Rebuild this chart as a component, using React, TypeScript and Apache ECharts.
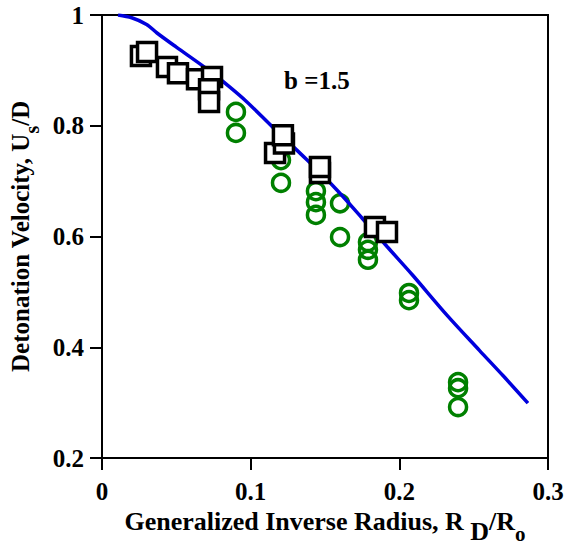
import React, { useEffect, useRef } from "react";
import * as echarts from "echarts";

// Model curve (b = 1.5): [R_D/R_o, Us/D]
const curveX = [0.0108, 0.02, 0.03, 0.037, 0.05, 0.0706, 0.085, 0.0975, 0.115, 0.138, 0.158, 0.175, 0.192, 0.209, 0.232, 0.254, 0.27, 0.2865];
const curveY = [1.0, 0.995, 0.983, 0.9675, 0.942, 0.9025, 0.872, 0.843, 0.797, 0.738, 0.684, 0.633, 0.581, 0.53, 0.458, 0.394, 0.348, 0.299];

// Experimental data (squares)
const squareX = [0.0262, 0.0303, 0.0437, 0.0511, 0.0639, 0.074, 0.072, 0.072, 0.1164, 0.1224, 0.1217, 0.1466, 0.1466, 0.1836, 0.1917];
const squareY = [0.926, 0.933, 0.906, 0.895, 0.884, 0.888, 0.866, 0.843, 0.751, 0.768, 0.783, 0.7147, 0.7255, 0.617, 0.608];

// Experimental data (circles)
const circleX = [0.0901, 0.0901, 0.1204, 0.1204, 0.1439, 0.1439, 0.1439, 0.1601, 0.1601, 0.1789, 0.1789, 0.1789, 0.2065, 0.2065, 0.2395, 0.2395, 0.2395];
const circleY = [0.825, 0.787, 0.738, 0.697, 0.682, 0.662, 0.639, 0.66, 0.599, 0.59, 0.576, 0.558, 0.498, 0.485, 0.337, 0.326, 0.292];

const xTicks = { min: 0, max: 0.3, interval: 0.1 };
const yTicks = { min: 0.2, max: 1, interval: 0.2 };
const annotation = "b =1.5";

const FONT = "'Liberation Serif', 'Times New Roman', serif";

export default function App() {
  const ref = useRef<HTMLDivElement>(null);
  useEffect(() => {
    if (!ref.current) return;
    const chart = echarts.init(ref.current, undefined, { renderer: "svg" });
    const zip = (xs: number[], ys: number[]) => xs.map((x, i) => [x, ys[i]]);
    const labelStyle = {
      color: "#000",
      fontFamily: FONT,
      fontWeight: "bold" as const,
      fontSize: 25,
    };
    const titleStyle = { ...labelStyle, fontSize: 26 };
    const axisCommon = {
      splitLine: { show: false },
      axisLine: { show: true, lineStyle: { color: "#000", width: 2 } },
      axisTick: { show: true, inside: false, length: 12, lineStyle: { color: "#000", width: 2 } },
    };
    chart.setOption({
      animation: false,
      backgroundColor: "#fff",
      grid: {
        left: 102,
        right: 17,
        top: 15,
        bottom: 90,
        containLabel: false,
        outerBoundsMode: "none",
        show: true,
        borderColor: "#000",
        borderWidth: 2,
        backgroundColor: "transparent",
      },
      xAxis: {
        type: "value",
        min: xTicks.min,
        max: xTicks.max,
        interval: xTicks.interval,
        ...axisCommon,
        axisLabel: {
          ...labelStyle,
          margin: 21,
          formatter: (v: number) => (v === 0 ? "0" : v.toFixed(1)),
        },
        name: "{m|Generalized Inverse Radius, R }{s|D}{m|/R}{o|o}",
        nameLocation: "middle",
        nameGap: 48,
        nameTextStyle: {
          ...titleStyle,
          rich: {
            m: { ...titleStyle, verticalAlign: "top", lineHeight: 28 },
            s: { ...titleStyle, verticalAlign: "bottom", lineHeight: 35 },
            o: { ...titleStyle, fontSize: 21, verticalAlign: "bottom", lineHeight: 36 },
          },
        },
      },
      yAxis: {
        type: "value",
        min: yTicks.min,
        max: yTicks.max,
        interval: yTicks.interval,
        ...axisCommon,
        axisLabel: {
          ...labelStyle,
          margin: 18,
          formatter: (v: number) => (Math.abs(v - 1) < 1e-9 ? "1" : v.toFixed(1)),
        },
        name: "{m|Detonation Velocity, U}{s|s}{m|/D}",
        nameLocation: "middle",
        nameGap: 48,
        nameRotate: 90,
        nameTextStyle: {
          ...labelStyle,
          rich: {
            m: { ...labelStyle, verticalAlign: "top", lineHeight: 28 },
            s: { ...labelStyle, fontSize: 20, verticalAlign: "bottom", lineHeight: 34 },
          },
        },
      },
      graphic: [
        {
          type: "text",
          left: 284,
          top: 68,
          style: {
            text: annotation,
            fill: "#000",
            font: `bold 25px ${FONT}`,
          },
        },
      ],
      series: [
        {
          type: "scatter",
          data: zip(circleX, circleY),
          symbol: "circle",
          symbolSize: 17,
          itemStyle: { color: "rgba(0,0,0,0)", borderColor: "#008000", borderWidth: 3.5, opacity: 1 },
          z: 2,
        },
        {
          type: "line",
          data: zip(curveX, curveY),
          showSymbol: false,
          smooth: 0.3,
          lineStyle: { color: "#0000dd", width: 3.5 },
          z: 3,
        },
        {
          type: "scatter",
          data: zip(squareX, squareY),
          symbol: "rect",
          symbolSize: 19,
          itemStyle: { color: "#fff", borderColor: "#000", borderWidth: 3.5, opacity: 1 },
          z: 4,
        },
      ],
    });
    return () => chart.dispose();
  }, []);
  return (
    <div
      ref={ref}
      style={{ position: "fixed", left: 0, top: 0, width: 565, height: 548 }}
    />
  );
}
